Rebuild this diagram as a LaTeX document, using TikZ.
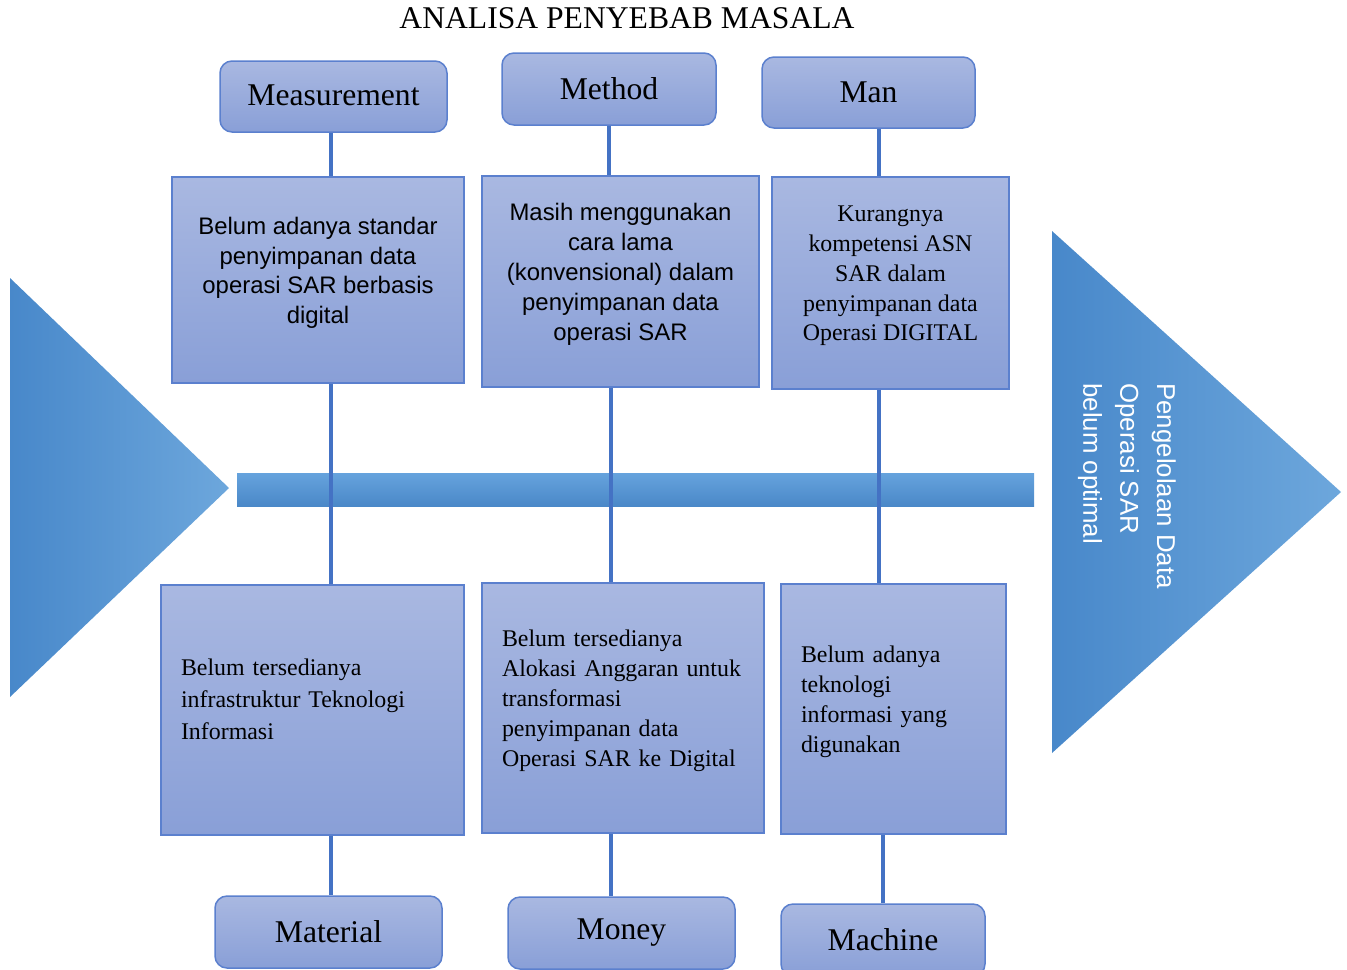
\documentclass[tikz,border=0pt]{standalone}
\usepackage{fontspec}
\setmainfont{Liberation Serif}
\setsansfont{Liberation Sans}
\usepackage{tikz}
\definecolor{boneblue}{HTML}{4472C4}
\definecolor{boxline}{HTML}{5B80CE}
\definecolor{boxtop}{HTML}{A9B8E1}
\definecolor{boxbot}{HTML}{899FD7}
\definecolor{fishleft}{HTML}{4888CA}
\definecolor{fishright}{HTML}{6DA7DC}
\definecolor{spinetop}{HTML}{66A3DD}
\definecolor{spinebot}{HTML}{4A88C8}
\tikzset{
  category/.style={rectangle, draw=boxline, line width=0.3mm, top color=boxtop, bottom color=boxbot, rounded corners=2.4mm, inner sep=0pt, font=\fontsize{18}{21}\selectfont},
  cause/.style={rectangle, draw=boxline, line width=0.3mm, top color=boxtop, bottom color=boxbot, align=center, inner sep=0pt},
  causesans/.style={cause, font=\sffamily\fontsize{13.6}{17}\selectfont},
  causeserif/.style={cause, font=\fontsize{13.6}{17}\selectfont},
  causeleft/.style={cause, align=left, inner xsep=4mm, minimum height=50mm, font=\fontsize{13.6}{17}\selectfont},
  bone/.style={draw=boneblue, line width=0.8mm},
}

\begin{document}
\begin{tikzpicture}[x=0.2mm, y=-0.2mm]
  \useasboundingbox (0,0) rectangle (1347,969);
  \node[font=\fontsize{18}{21}\selectfont] (title) at (627,18) {ANALISA PENYEBAB MASALA};
  % head and tail of the fish
  \shade[left color=fishleft, right color=fishright] (10,278) -- (229,488) -- (10,697) -- cycle;
  \shade[left color=fishleft, right color=fishright] (1052,231) -- (1341,492) -- (1052,753) -- cycle;
  \shade[top color=spinetop, bottom color=spinebot] (237,473) rectangle (1034,506);
  \node[rotate=-90, align=left, text=white, font=\sffamily\fontsize{14.7}{21}\selectfont] (effect) at (1127,486) {Pengelolaan Data\\Operasi SAR\\belum optimal};
  % categories
  \node[category, minimum width=45.4mm, minimum height=14.2mm] (meas) at (333.5,96.5) {\raisebox{1pt}{Measurement}};
  \node[category, minimum width=42.8mm, minimum height=14.4mm] (meth) at (609,89) {\raisebox{1pt}{Method}};
  \node[category, minimum width=42.6mm, minimum height=14.2mm] (man) at (868.5,92.5) {Man};
  \node[category, minimum width=45.4mm, minimum height=14.4mm] (mat) at (328.5,932) {Material};
  \node[category, minimum width=45.4mm, minimum height=14.4mm] (mon) at (621.5,933) {Money};
  \node[category, minimum width=40.8mm, minimum height=14.4mm] (mac) at (883,940) {Machine};
  % causes (the empty last line lifts the text a little)
  \node[causesans, minimum width=58.4mm, minimum height=41.2mm] (c1) at (318,280) {Belum adanya standar\\penyimpanan data\\operasi SAR berbasis\\digital\\[-6pt]\mbox{}};
  \node[causesans, minimum width=55.4mm, minimum height=42.2mm] (c2) at (620.5,281.5) {Masih menggunakan\\cara lama\\(konvensional) dalam\\penyimpanan data\\operasi SAR\\[-6pt]\mbox{}};
  \node[causeserif, minimum width=47.4mm, minimum height=42.4mm] (c3) at (890.5,283) {Kurangnya\\kompetensi ASN\\SAR dalam\\penyimpanan data\\Operasi DIGITAL\\[-6pt]\mbox{}};
  \node[causeleft, text width=52.6mm, font=\fontsize{13.6}{18.1}\selectfont] (c4) at (312.5,710) {Belum tersedianya\\infrastruktur Teknologi\\Informasi\\[-6pt]\mbox{}};
  \node[causeleft, text width=48.4mm] (c5) at (623,708) {Belum tersedianya\\Alokasi Anggaran untuk\\transformasi\\penyimpanan data\\Operasi SAR ke Digital\\[-6pt]\mbox{}};
  \node[causeleft, text width=37mm] (c6) at (893.5,709) {Belum adanya\\teknologi\\informasi yang\\digunakan\\[-6pt]\mbox{}};
  % bones
  \coordinate (b1) at (331,0);
  \coordinate (b2) at (611,0);
  \coordinate (b3) at (879,0);
  \draw[bone] (meas.south -| b1) -- (c1.north -| b1);
  \draw[bone] (c1.south -| b1) -- (c4.north -| b1);
  \draw[bone] (c4.south -| b1) -- (mat.north -| b1);
  \draw[bone] (meth.south) -- (meth.south |- c2.north);
  \draw[bone] (c2.south -| b2) -- (c5.north -| b2);
  \draw[bone] (c5.south -| b2) -- (mon.north -| b2);
  \draw[bone] (man.south -| b3) -- (c3.north -| b3);
  \draw[bone] (c3.south -| b3) -- (c6.north -| b3);
  \draw[bone] (c6.south -| mac.north) -- (mac.north);
\end{tikzpicture}
\end{document}
